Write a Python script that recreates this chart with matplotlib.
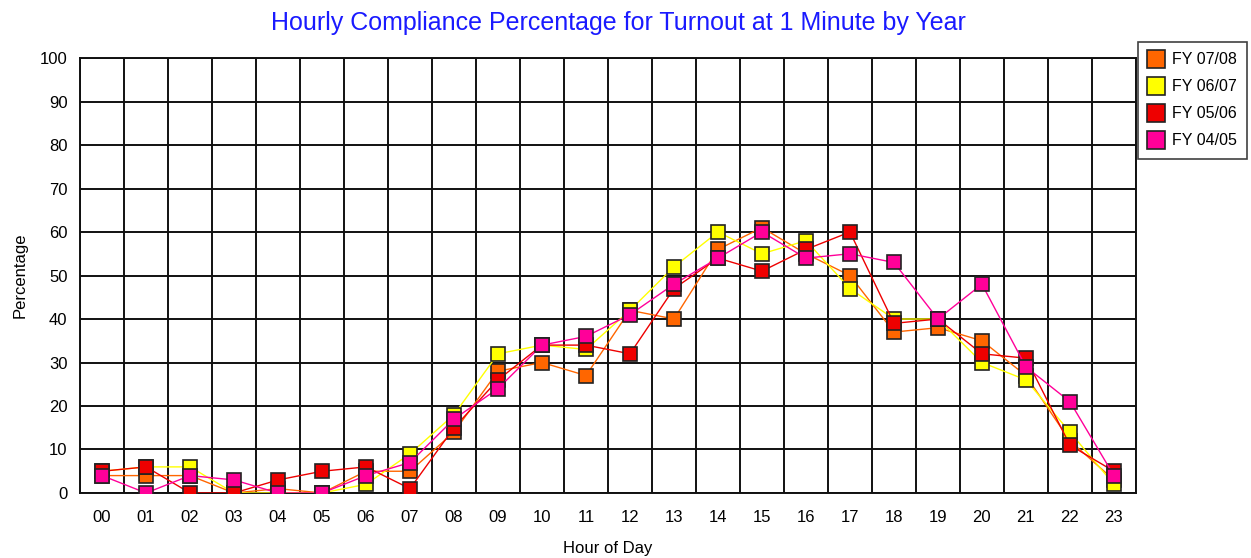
import matplotlib.pyplot as plt
import numpy as np

plt.rcParams["font.family"] = ["Liberation Sans", "DejaVu Sans"]

hours = [f"{h:02d}" for h in range(24)]
fy_0708 = [4, 4, 4, 0, 1, 0, 5, 5, 14, 28, 30, 27, 42, 40, 56, 61, 55, 50, 37, 38, 35, 27, 12, 3]
fy_0607 = [5, 6, 6, 0, 0, 0, 2, 9, 18, 32, 34, 33, 42, 52, 60, 55, 58, 47, 40, 40, 30, 26, 14, 2]
fy_0506 = [5, 6, 0, 0, 3, 5, 6, 1, 15, 26, 34, 34, 32, 47, 54, 51, 56, 60, 39, 40, 32, 31, 11, 5]
fy_0405 = [4, 0, 4, 3, 0, 0, 4, 7, 17, 24, 34, 36, 41, 48, 54, 60, 54, 55, 53, 40, 48, 29, 21, 4]

series = [
    ("FY 07/08", fy_0708, "#ff6600"),
    ("FY 06/07", fy_0607, "#ffff00"),
    ("FY 05/06", fy_0506, "#ee0000"),
    ("FY 04/05", fy_0405, "#ff0099"),
]

fig = plt.figure(figsize=(12.51, 5.58), dpi=100)
ax = fig.add_axes([0.064, 0.1165, 0.844, 0.7795])

x = np.arange(len(hours))
for i, (label, vals, color) in enumerate(series):
    ax.plot(x, vals, color=color, lw=1, zorder=3 + i)
    ax.plot(x, vals, ls="none", marker="s", ms=10, mfc=color, mec="#222222",
            mew=1.2, zorder=3 + i, label=label)

ax.set_xlim(-0.5, 23.5)
ax.set_ylim(0, 100)
ax.set_xticks(x)
ax.set_xticklabels(hours, fontsize=12)
ax.set_yticks(range(0, 101, 10))
ax.tick_params(axis="y", labelsize=12, length=0, pad=9)
ax.tick_params(axis="x", length=0, pad=12)

for v in np.arange(-0.5, 24, 1):
    ax.axvline(v, color="#111111", lw=1.4, zorder=1)
for v in range(0, 101, 10):
    ax.axhline(v, color="#111111", lw=1.4, zorder=1)
for s in ax.spines.values():
    s.set_color("#111111")
    s.set_linewidth(1.4)

ax.set_xlabel("Hour of Day", fontsize=12, labelpad=12)
ax.set_ylabel("Percentage", fontsize=12, labelpad=9)
fig.suptitle("Hourly Compliance Percentage for Turnout at 1 Minute by Year",
             color="#1a1aff", fontsize=18, x=0.494, y=0.98)

leg = ax.legend(loc="upper left", bbox_to_anchor=(1.002, 1.037), fontsize=11.5,
                frameon=True, fancybox=False, edgecolor="#111111",
                borderaxespad=0, handlelength=0.9, handletextpad=0.55,
                borderpad=0.65, labelspacing=0.75, markerscale=1.25)
leg.get_frame().set_linewidth(1.2)

fig.savefig("out.png", dpi=100)
